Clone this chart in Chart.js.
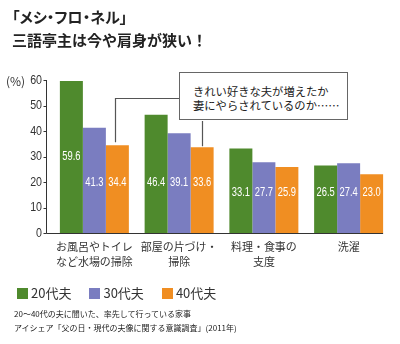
<!DOCTYPE html>
<html lang="ja">
<head>
<meta charset="utf-8">
<script src="https://cdn.jsdelivr.net/npm/chart.js@4"></script>
<style>
  html, body { margin: 0; padding: 0; background: #fff; }
  #wrap { position: relative; width: 400px; height: 344px; overflow: hidden;
          font-family: "Noto Sans CJK JP", sans-serif; color: #222; }
  #wrap canvas { position: absolute; left: 0; top: 0; }
  .title { position: absolute; left: 12px; font-size: 15px; font-weight: bold;
           line-height: 1; white-space: nowrap; }
  .unit { position: absolute; left: 6px; top: 72px; font-size: 12px; color: #333; white-space: nowrap; }
  .note { position: absolute; left: 179px; top: 72px; width: 169px; height: 48px; border: 1.5px solid #666; background: #fff;
          font-size: 11.3px; line-height: 14px; padding: 11px 0 0 13px; box-sizing: border-box; white-space: nowrap; }
  .legend { position: absolute; left: 17px; top: 283px; font-size: 13px; color: #333; white-space: nowrap; }
  .legend span.sw { display: inline-block; width: 11px; height: 11px; vertical-align: -1px; margin-right: 3px; }
  .legend span.item { margin-right: 18px; }
  .src { position: absolute; left: 14px; font-size: 8px; color: #222; white-space: nowrap; }
</style>
</head>
<body>
<div id="wrap">
  <canvas id="chart" width="400" height="344"></canvas>
  <div class="title" style="top:9px; font-feature-settings:'palt'">「メシ・フロ・ネル」</div>
  <div class="title" style="top:32px">三語亭主は今や肩身が狭い！</div>
  <div class="unit">(%)</div>
  <div class="note">きれい好きな夫が増えたか<br>妻にやらされているのか……</div>
  <div class="legend" id="legend"></div>
  <div class="src" style="top:308px">20〜40代の夫に聞いた、率先して行っている家事</div>
  <div class="src" style="top:322px">アイシェア「父の日・現代の夫像に関する意識調査」(2011年)</div>
</div>
<script>
// 家事の種類
const categories = [
  ["お風呂やトイレ", "など水場の掃除"],
  ["部屋の片づけ・", "掃除"],
  ["料理・食事の", "支度"],
  ["洗濯"]
];
// 年代別の割合（%）
const seriesNames = ["20代夫", "30代夫", "40代夫"];
const values20 = [59.6, 46.4, 33.1, 26.5];
const values30 = [41.3, 39.1, 27.7, 27.4];
const values40 = [34.4, 33.6, 25.9, 23.0];
const yTicks = [0, 10, 20, 30, 40, 50, 60];

const colors = ["#4f8a2d", "#7a7dc0", "#f08e22"];

// 凡例
document.getElementById("legend").innerHTML = seriesNames.map((n, i) =>
  `<span class="item"><span class="sw" style="background:${colors[i]}"></span>${n}</span>`).join("");

// 幅を詰めて文字を描く
function narrowText(ctx, text, x, y, squeeze) {
  ctx.save();
  ctx.translate(x, y);
  ctx.scale(squeeze, 1);
  ctx.fillText(text, 0, 0);
  ctx.restore();
}

// 軸線・目盛り・数値ラベル・吹き出しの線
const decorations = {
  id: "decorations",
  afterDatasetsDraw(chart) {
    const { ctx, chartArea, scales: { y } } = chart;
    const metas = [0, 1, 2].map(i => chart.getDatasetMeta(i).data);
    const last = metas[2][metas[2].length - 1];
    const ax = chartArea.left - 5.5;
    const by = Math.round(y.getPixelForValue(0)) + 0.5;
    ctx.save();
    ctx.strokeStyle = "#333";
    ctx.lineWidth = 1;
    ctx.beginPath();
    ctx.moveTo(ax, y.getPixelForValue(yTicks[yTicks.length - 1]));
    ctx.lineTo(ax, by);
    ctx.lineTo(last.x + last.width / 2, by);
    yTicks.forEach(t => {
      const ty = Math.round(y.getPixelForValue(t)) + 0.5;
      ctx.moveTo(ax - 3, ty);
      ctx.lineTo(ax, ty);
    });
    ctx.stroke();

    // 目盛りの数字
    ctx.fillStyle = "#333";
    ctx.font = "13px 'Liberation Sans', sans-serif";
    ctx.textAlign = "right";
    ctx.textBaseline = "middle";
    yTicks.forEach(t => narrowText(ctx, String(t), ax - 4.5, y.getPixelForValue(t), 0.82));

    // 棒の中の数値
    const level = [19.6, 19.6, 15.7, 15.7];
    ctx.fillStyle = "#fff";
    ctx.font = "12px 'Liberation Sans', sans-serif";
    ctx.textAlign = "center";
    chart.data.datasets.forEach((ds, i) => {
      metas[i].forEach((bar, j) => {
        const v = ds.data[j];
        const at = v / 2 > 25 ? v / 2 : level[j];
        narrowText(ctx, v.toFixed(1), bar.x, y.getPixelForValue(at), 0.78);
      });
    });

    // 吹き出しから棒への線
    const b0 = metas[2][0], b1 = metas[2][1];
    ctx.strokeStyle = "#555";
    ctx.lineWidth = 1.2;
    ctx.beginPath();
    ctx.moveTo(180, 98.5);
    ctx.lineTo(Math.round(b0.x) - 1.5, 98.5);
    ctx.lineTo(Math.round(b0.x) - 1.5, b0.y - 3);
    ctx.moveTo(Math.round(b1.x) + 0.5, 121);
    ctx.lineTo(Math.round(b1.x) + 0.5, b1.y - 1);
    ctx.stroke();
    ctx.restore();
  }
};

new Chart(document.getElementById("chart"), {
  type: "bar",
  data: {
    labels: categories,
    datasets: seriesNames.map((n, i) => ({
      label: n,
      data: [values20, values30, values40][i],
      backgroundColor: colors[i],
      borderWidth: 0
    }))
  },
  options: {
    responsive: false,
    animation: false,
    events: [],
    categoryPercentage: 0.814,
    barPercentage: 1,
    layout: { padding: { top: 80, right: 9, left: 0, bottom: 0 } },
    plugins: { legend: { display: false }, tooltip: { enabled: false } },
    scales: {
      x: {
        grid: { display: false, drawTicks: false },
        border: { display: false },
        ticks: {
          color: "#333",
          padding: 6,
          maxRotation: 0,
          autoSkip: false,
          font: { family: "Noto Sans CJK JP", size: 11, lineHeight: 1.36 }
        },
        afterFit(scale) { scale.height = 111; }
      },
      y: {
        min: 0,
        max: 60,
        grid: { display: false, drawTicks: false },
        border: { display: false },
        ticks: { stepSize: 10, display: false },
        afterFit(scale) { scale.width = 52; }
      }
    }
  },
  plugins: [decorations]
});
</script>
</body>
</html>
